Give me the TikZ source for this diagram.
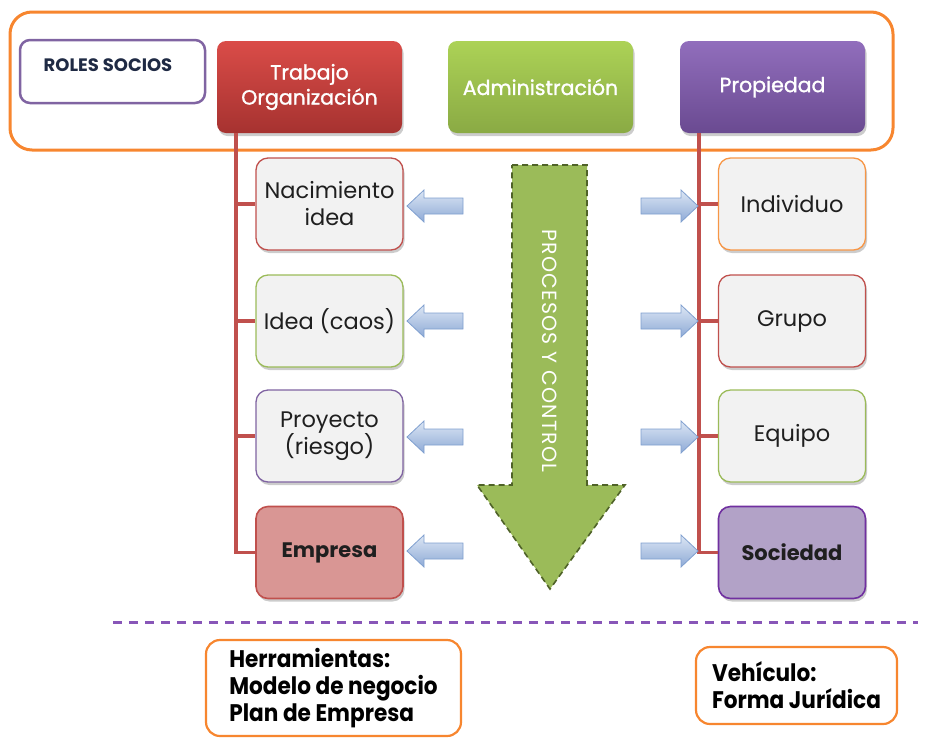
\documentclass[tikz,border=0pt]{standalone}
\usepackage{fontspec}
\setmainfont{Poppins}
\newfontfamily\condfont[FakeStretch=0.9]{Poppins}
\newfontfamily\medfont[FakeBold=1.3]{Poppins}
\newfontfamily\spacedfont[LetterSpace=6]{Poppins}
\definecolor{orangeC}{HTML}{F7862F}
\definecolor{purpleB}{HTML}{8064A2}
\definecolor{redB}{HTML}{C0504D}
\definecolor{greenB}{HTML}{9BBB59}
\definecolor{orangeB}{HTML}{F79646}
\definecolor{darkgreen}{HTML}{4F6228}
\definecolor{arrowB}{HTML}{7F9FCF}
\definecolor{arrowT}{HTML}{DCE6F4}
\definecolor{arrowBot}{HTML}{8EAAD6}
\definecolor{txt}{HTML}{1F1F1F}
\definecolor{rolestxtc}{HTML}{1F2A44}
\tikzset{
  softshadow/.style={preaction={fill=black, opacity=0.2, transform canvas={xshift=1.5pt,yshift=-3pt}}},
  hdr/.style={rounded corners=9pt, minimum width=185pt, minimum height=92pt, inner sep=0pt,
    align=center, text=white, font=\medfont\fontsize{20.5}{25}\selectfont, softshadow},
  itembox/.style={draw, line width=1.3pt, rounded corners=12pt, fill=white!95!black,
    minimum width=147pt, minimum height=92pt, inner sep=0pt, align=center, text=txt,
    font=\fontsize{22.5}{27}\selectfont, softshadow},
  boldbox/.style={font=\bfseries\fontsize{21}{25}\selectfont},
  infobox/.style={draw=orangeC, line width=2.2pt, rounded corners=14pt, fill=white,
    inner sep=0pt, align=left, font=\condfont\bfseries\fontsize{24}{27}\selectfont},
  spine/.style={draw=redB, line width=3.5pt},
  bluearrow/.style={top color=arrowT, bottom color=arrowBot, draw=arrowB, line width=0.8pt},
}
\begin{document}
\begin{tikzpicture}[x=1pt,y=-1pt]
\useasboundingbox (0,0) rectangle (925,737);
% outer frame
\node[draw=orangeC, line width=3pt, rounded corners=22pt, minimum width=883pt, minimum height=138pt, inner sep=0pt] (outer) at (451.5,81) {};
% roles
\node[draw=purpleB, line width=2.5pt, rounded corners=10pt, fill=white, minimum width=185pt, minimum height=63pt, inner sep=0pt] (roles) at (112.5,71.5) {};
\node[font=\bfseries\fontsize{18}{20}\selectfont, text=rolestxtc] (rolestxt) at (108,65) {ROLES SOCIOS};
% headers
\node[hdr, top color={rgb,255:red,218;green,76;blue,72}, bottom color={rgb,255:red,166;green,50;blue,48}] (trab) at (309.5,87) {Trabajo\\Organización};
\node[hdr, top color={rgb,255:red,172;green,210;blue,86}, bottom color={rgb,255:red,138;green,170;blue,68}] (adm) at (540.5,87) {Administración};
\node[hdr, top color={rgb,255:red,145;green,110;blue,188}, bottom color={rgb,255:red,106;green,74;blue,145}] (prop) at (772.5,87) {Propiedad};
% spines
\coordinate (sl) at ([xshift=19pt]trab.south west);
\coordinate (sr) at ([xshift=19pt]prop.south west);
% left boxes
\node[itembox, draw=redB] (nac) at (329.5,204) {Nacimiento\\idea};
\node[itembox, draw=greenB] (idea) at (329.5,321) {Idea (caos)};
\node[itembox, draw=purpleB] (proy) at (329.5,436) {Proyecto\\(riesgo)};
\node[itembox, boldbox, draw=redB, line width=1.6pt, fill={rgb,255:red,217;green,150;blue,148}] (emp) at (329.5,552.5) {Empresa};
% right boxes
\node[itembox, draw=orangeB] (ind) at (792,204) {Individuo};
\node[itembox, draw=redB] (gru) at (792,321) {Grupo};
\node[itembox, draw=greenB] (equ) at (792,436) {Equipo};
\node[itembox, boldbox, line width=1.6pt, draw={rgb,255:red,112;green,48;blue,160}, fill={rgb,255:red,178;green,162;blue,199}] (soc) at (792,552.5) {Sociedad};
% spine lines
\draw[spine] (sl) |- (emp.west);
\draw[spine] (nac.west -| sl) -- (nac.west);
\draw[spine] (idea.west -| sl) -- (idea.west);
\draw[spine] (proy.west -| sl) -- (proy.west);
\draw[spine] (sr) |- (soc.west);
\draw[spine] (ind.west -| sr) -- (ind.west);
\draw[spine] (gru.west -| sr) -- (gru.west);
\draw[spine] (equ.west -| sr) -- (equ.west);
% big arrow
\fill[fill=greenB] (512,165) -- (587,165) -- (587,485) -- (625,485) -- (550,589) -- (477,485) -- (512,485) -- cycle;
\draw[draw=darkgreen, line width=1.6pt, dash pattern=on 6pt off 4pt] (512,165) -- (587,165) -- (587,485) -- (625,485) -- (550,589) -- (477,485) -- (512,485) -- cycle;
\node[rotate=-90, text=white, font=\spacedfont\fontsize{20.5}{22}\selectfont] (proc) at (550,351) {PROCESOS Y CONTROL};
% small arrows
\foreach \yy in {206,321,437,551}{
  \path[bluearrow] (407,\yy) -- (424,\yy-16) -- (424,\yy-8) -- (463,\yy-8) -- (463,\yy+8) -- (424,\yy+8) -- (424,\yy+16) -- cycle;
  \path[bluearrow] (698,\yy) -- (681,\yy-16) -- (681,\yy-8) -- (641,\yy-8) -- (641,\yy+8) -- (681,\yy+8) -- (681,\yy+16) -- cycle;
}
% dashed separator
\coordinate (d1) at (113,622);
\coordinate (d2) at (918,622);
\draw[draw={rgb,255:red,136;green,86;blue,184}, line width=3pt, dash pattern=on 9pt off 7pt] (d1) -- (d2);
% bottom boxes
\node[infobox, minimum width=255pt, minimum height=96pt] (herr) at (333.5,688) {Herramientas:\\Modelo de negocio\\Plan de Empresa};
\node[infobox, minimum width=201pt, minimum height=77pt] (veh) at (796.5,685.5) {Vehículo:\\Forma Jurídica};
\end{tikzpicture}
\end{document}
